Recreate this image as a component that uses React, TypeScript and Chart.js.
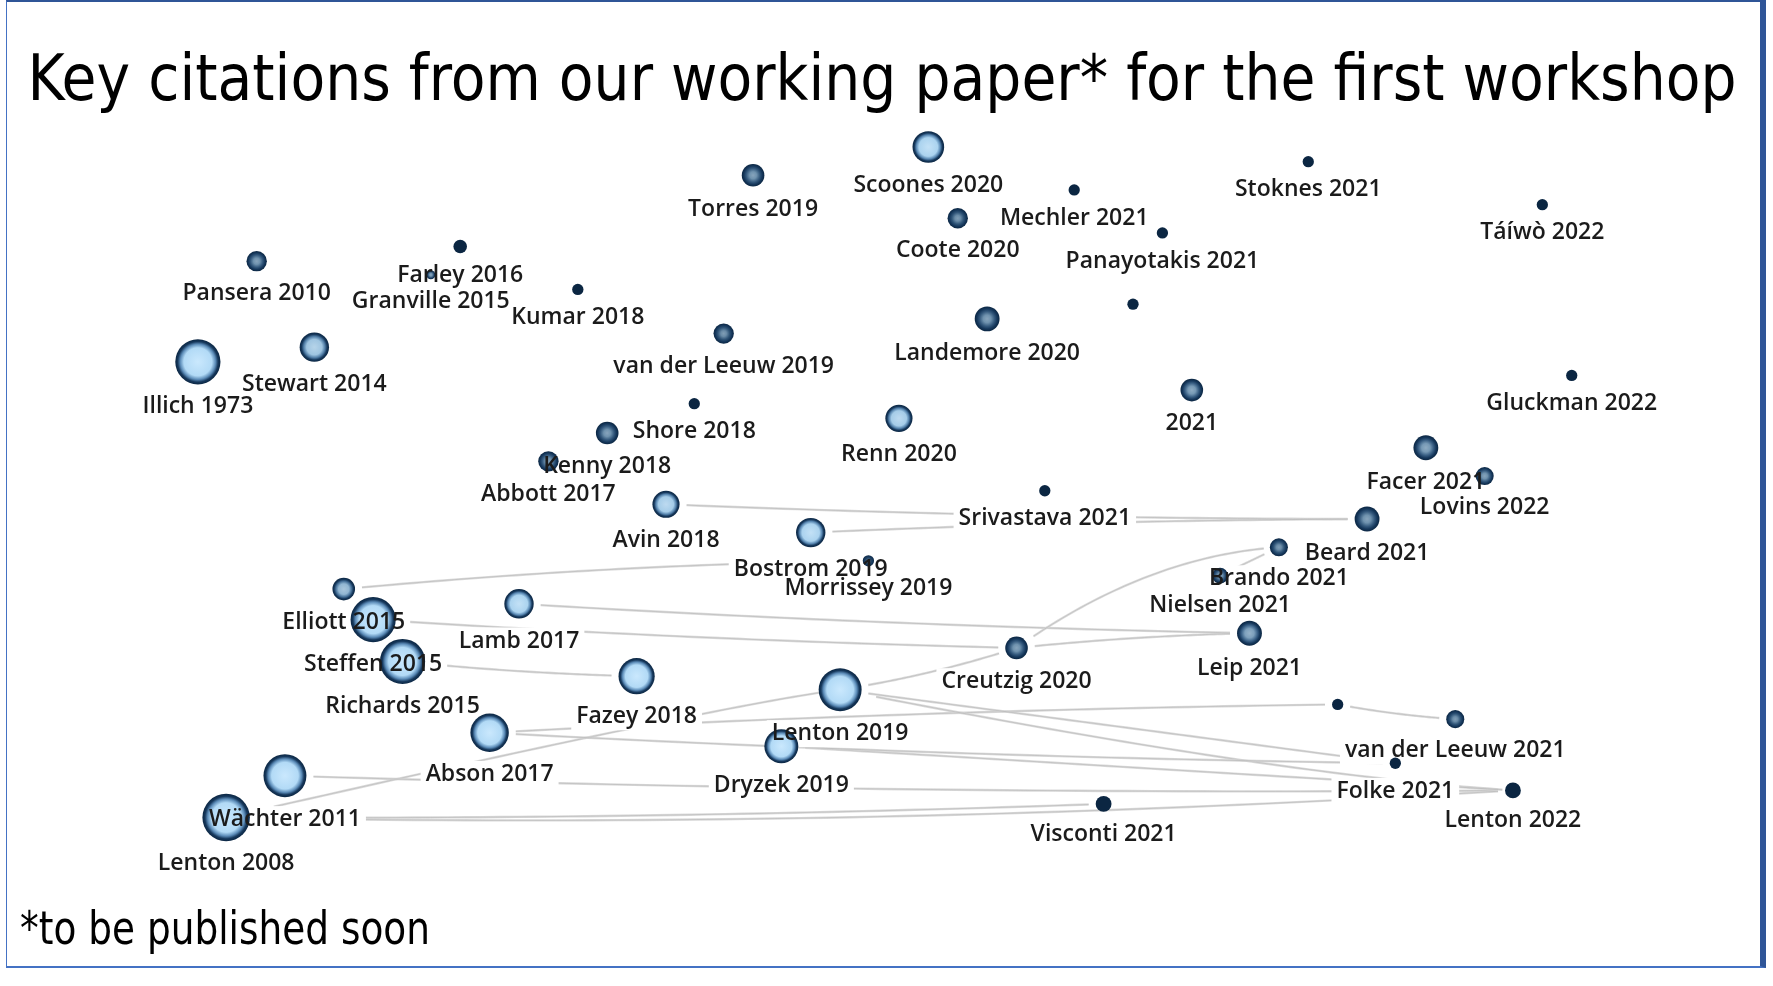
import React, { useEffect, useRef } from "react";
import { Chart, registerables } from "chart.js";

Chart.register(...registerables);

const TITLE = "Key citations from our working paper* for the first workshop";
const FOOTNOTE = "*to be published soon";

// Node labels (empty string = unlabeled node)
const nodeLabels = [
  "Illich 1973", "Pansera 2010", "Stewart 2014", "Farley 2016", "Granville 2015",
  "Kumar 2018", "Torres 2019", "Scoones 2020", "Coote 2020", "Mechler 2021",
  "Stoknes 2021", "Panayotakis 2021", "Táíwò 2022", "van der Leeuw 2019", "Landemore 2020",
  "", "2021", "Gluckman 2022", "Shore 2018", "Kenny 2018",
  "Abbott 2017", "Renn 2020", "Facer 2021", "Lovins 2022", "Srivastava 2021",
  "Avin 2018", "Beard 2021", "Bostrom 2019", "Morrissey 2019", "Brando 2021",
  "Nielsen 2021", "Elliott 2015", "Steffen 2015", "Lamb 2017", "Creutzig 2020",
  "Leip 2021", "Richards 2015", "Fazey 2018", "Lenton 2019", "Abson 2017",
  "Dryzek 2019", "Wächter 2011", "Lenton 2008", "", "van der Leeuw 2021",
  "Folke 2021", "Lenton 2022", "Visconti 2021",
];

// Network layout coordinates (layout units)
const layoutX = [
  17.5, 22.7, 27.8, 40.7, 38.1,
  51.1, 66.6, 82.1, 84.7, 95.0,
  115.7, 102.8, 136.4, 64.0, 87.3,
  100.2, 105.4, 139.0, 61.4, 53.7,
  48.5, 79.5, 126.1, 131.3, 92.4,
  58.9, 120.9, 71.7, 76.8, 113.1,
  107.9, 30.4, 33.0, 45.9, 89.9,
  110.5, 35.6, 56.3, 74.3, 43.3,
  69.1, 25.2, 20.0, 118.3, 128.7,
  123.4, 133.8, 97.6,
];
const layoutY = [
  32.0, 23.1, 30.7, 21.8, 24.3,
  25.6, 15.5, 13.0, 19.3, 16.8,
  14.3, 20.6, 18.1, 29.5, 28.2,
  26.9, 34.5, 33.2, 35.7, 38.3,
  40.8, 37.0, 39.6, 42.1, 43.4,
  44.6, 45.9, 47.1, 49.6, 48.4,
  50.9, 52.1, 54.8, 53.4, 57.3,
  56.0, 58.5, 59.8, 61.0, 64.8,
  66.0, 68.6, 72.3, 62.3, 63.6,
  67.5, 69.9, 71.1,
];
// Node weight (citation weight -> bubble size)
const nodeWeight = [
  20, 9, 13, 6, 4,
  5, 10, 14, 9, 5,
  5, 5, 5, 9, 11,
  5, 10, 5, 5, 10,
  9, 12, 11, 8, 5,
  12, 11, 13, 5, 8,
  7, 10, 20, 13, 10,
  11, 20, 16, 19, 17,
  15, 19, 21, 5, 8,
  5, 7, 7,
];
// Centrality (0..1), drives the node highlight
const nodeCentrality = [
  1, 0.5, 0.85, 0, 0.5,
  0, 0.5, 0.95, 0.45, 0,
  0, 0, 0, 0.45, 0.5,
  0, 0.55, 0, 0, 0.5,
  0.5, 0.9, 0.55, 0.5, 0,
  0.9, 0.5, 0.95, 0.3, 0.45,
  0.5, 0.75, 1, 0.95, 0.5,
  0.6, 1, 1, 1, 1,
  1, 1, 1, 0, 0.45,
  0, 0, 0,
];

// Citation links (indices into the node arrays)
const edgeSource = [25, 27, 31, 33, 32, 34, 38, 34, 29, 36, 42, 41, 42, 42, 39, 43, 38, 38, 40, 39];
const edgeTarget = [26, 26, 28, 35, 34, 35, 34, 29, 30, 37, 38, 46, 47, 46, 43, 44, 45, 46, 46, 45];
// link curvature: perpendicular bend and along-the-link skew of the control point
const edgeBend = [0.01, -0.01, -0.02, 0.01, 0.01, -0.02, 0.04, -0.14, 0, 0.02, -0.015, 0.01, 0.01, 0.02, -0.01, 0.03, 0.0, 0.03, 0.0, 0.01];
const edgeSkew = [0, 0, 0, 0, 0, 0, 0, 0.05, 0, 0, 0.31, 0, 0, 0, 0, 0, 0, 0.15, 0, 0];

const X_MAX = 156.8;
const Y_MAX = 87.2;
const DARK = [11, 38, 66];
const LIGHT_C = [202, 232, 253];
const LIGHT_2 = [178, 218, 246];
const MID = [92, 140, 184];

function mix(a: number[], b: number[], t: number) {
  const c = a.map((v, i) => Math.round(v + (b[i] - v) * t));
  return `rgb(${c[0]},${c[1]},${c[2]})`;
}

const LABEL_FONT = '600 23px "Open Sans", sans-serif';
const TITLE_FONT = '64px "DejaVu Sans Condensed", "DejaVu Sans", sans-serif';
const FOOT_FONT = '46px "DejaVu Sans Condensed", "DejaVu Sans", sans-serif';

const networkPlugin = {
  id: "network",
  beforeDatasetsDraw(chart: any) {
    const ctx = chart.ctx;
    const els = chart.getDatasetMeta(0).data;
    ctx.save();
    // links
    for (let e = 0; e < edgeSource.length; e++) {
      const a = els[edgeSource[e]];
      const b = els[edgeTarget[e]];
      if (!a || !b) continue;
      const ra = a.options.radius, rb = b.options.radius;
      const dx = b.x - a.x, dy = b.y - a.y;
      const len = Math.hypot(dx, dy);
      const ux = dx / len, uy = dy / len;
      const nx = -uy, ny = ux;
      const cx = (a.x + b.x) / 2 + nx * edgeBend[e] * len + ux * edgeSkew[e] * len;
      const cy = (a.y + b.y) / 2 + ny * edgeBend[e] * len + uy * edgeSkew[e] * len;
      const gap = 7;
      const t0 = Math.min(0.45, (ra + gap) / len);
      const t1 = Math.max(0.55, 1 - (rb + gap) / len);
      const pts: [number, number][] = [];
      const N = 48;
      for (let k = 0; k <= N; k++) {
        const t = t0 + ((t1 - t0) * k) / N;
        const u = 1 - t;
        pts.push([u * u * a.x + 2 * u * t * cx + t * t * b.x, u * u * a.y + 2 * u * t * cy + t * t * b.y]);
      }
      const stroke = (style: string, w: number) => {
        ctx.beginPath();
        pts.forEach((p, i) => (i ? ctx.lineTo(p[0], p[1]) : ctx.moveTo(p[0], p[1])));
        ctx.strokeStyle = style;
        ctx.lineWidth = w;
        ctx.stroke();
      };
      stroke("rgba(212,212,212,0.85)", 2.4);
      stroke("rgba(150,150,150,0.35)", 0.9);
    }
    // label backgrounds (links pass behind labels)
    ctx.font = LABEL_FONT;
    ctx.fillStyle = "#ffffff";
    els.forEach((el: any, i: number) => {
      const txt = nodeLabels[i];
      if (!txt) return;
      const w = ctx.measureText(txt).width;
      const base = el.y + el.options.radius + 29;
      ctx.fillRect(el.x - w / 2 - 5, base - 20, w + 10, 27);
    });
    ctx.restore();
  },
  afterDatasetsDraw(chart: any) {
    const ctx = chart.ctx;
    const els = chart.getDatasetMeta(0).data;
    ctx.save();
    ctx.font = LABEL_FONT;
    ctx.fillStyle = "#1b1b1b";
    ctx.textAlign = "center";
    ctx.textBaseline = "alphabetic";
    els.forEach((el: any, i: number) => {
      const txt = nodeLabels[i];
      if (!txt) return;
      ctx.fillText(txt, el.x, el.y + el.options.radius + 29);
    });
    ctx.restore();
  },
  afterDraw(chart: any) {
    const ctx = chart.ctx;
    ctx.save();
    ctx.fillStyle = "#000";
    ctx.textAlign = "left";
    ctx.textBaseline = "alphabetic";
    ctx.font = TITLE_FONT;
    let w = ctx.measureText(TITLE).width;
    ctx.save();
    ctx.translate(27.5, 99.5);
    ctx.scale(1709 / w, 1);
    ctx.fillText(TITLE, 0, 0);
    ctx.restore();
    ctx.font = FOOT_FONT;
    w = ctx.measureText(FOOTNOTE).width;
    ctx.save();
    ctx.translate(20, 944);
    ctx.scale(410 / w, 1);
    ctx.fillText(FOOTNOTE, 0, 0);
    ctx.restore();
    ctx.restore();
  },
};

export default function App() {
  const ref = useRef<HTMLCanvasElement | null>(null);
  useEffect(() => {
    document.body.style.margin = "0";
    const canvas = ref.current!;
    const dark = mix(DARK, DARK, 0);
    const chart = new Chart(canvas, {
      type: "bubble",
      data: {
        datasets: [
          {
            data: layoutX.map((x, i) => ({ x, y: layoutY[i], r: nodeWeight[i] * 1.13 })),
            borderWidth: 0,
            hoverRadius: 0,
            backgroundColor: (c: any) => {
              if (c.type !== "data") return dark;
              const i = c.dataIndex;
              const sx = c.chart.scales.x, sy = c.chart.scales.y;
              if (!sx || !sy) return dark;
              const x = sx.getPixelForValue(layoutX[i]);
              const y = sy.getPixelForValue(layoutY[i]);
              const r = nodeWeight[i] * 1.13;
              const t = nodeCentrality[i];
              if (!isFinite(x) || !isFinite(y) || t === 0) return dark;
              const g = c.chart.ctx.createRadialGradient(x, y, 0, x, y, r);
              const s = 0.62 * t;
              g.addColorStop(0, mix(DARK, LIGHT_C, 0.3 + 0.7 * t));
              g.addColorStop(s, mix(DARK, LIGHT_2, 0.2 + 0.8 * t));
              g.addColorStop(s + (1 - s) * 0.42, mix(DARK, MID, t));
              g.addColorStop(s + (1 - s) * 0.72, mix(DARK, [22, 56, 92], 1));
              g.addColorStop(1, dark);
              return g;
            },
          } as any,
        ],
      },
      options: {
        responsive: false,
        animation: false,
        events: [],
        layout: { padding: 0, autoPadding: false } as any,
        scales: {
          x: { type: "linear", min: 0, max: X_MAX, display: false },
          y: { type: "linear", min: 0, max: Y_MAX, reverse: true, display: false },
        },
        plugins: {
          legend: { display: false },
          tooltip: { enabled: false },
          title: { display: false },
        },
      },
      plugins: [networkPlugin],
    });
    let alive = true;
    if ((document as any).fonts) {
      Promise.all([
        (document as any).fonts.load(LABEL_FONT),
        (document as any).fonts.load(TITLE_FONT),
      ])
        .catch(() => {})
        .then(() => {
          if (alive) chart.update();
        });
    }
    return () => {
      alive = false;
      chart.destroy();
    };
  }, []);

  return (
    <div style={{ position: "absolute", left: 0, top: 0, width: 1773, height: 986, background: "#fff", overflow: "hidden" }}>
      <div
        style={{
          position: "absolute",
          left: 6,
          top: 0,
          width: 1760,
          height: 968,
          boxSizing: "border-box",
          borderLeft: "1.5px solid #4472c4",
          borderTop: "2px solid #2f5597",
          borderRight: "6px solid #2f5597",
          borderBottom: "2px solid #4472c4",
        }}
      />
      <canvas ref={ref} width={1773} height={986} style={{ position: "absolute", left: 0, top: 0, width: 1773, height: 986 }} />
    </div>
  );
}
